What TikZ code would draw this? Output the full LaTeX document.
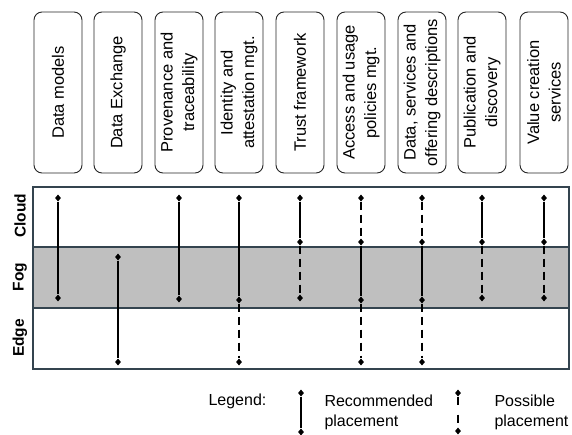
\documentclass[tikz,border=0pt]{standalone}
\usepackage{fontspec}
\setmainfont{Liberation Sans}
\usetikzlibrary{shapes.geometric}
\definecolor{frameline}{HTML}{34444F}
\definecolor{fogfill}{HTML}{BFBFBF}
\begin{document}
\begin{tikzpicture}[x=1pt,y=-1pt,
  cat/.style={draw=black!85, line width=0.9pt, rounded corners=8pt, minimum width=161pt, minimum height=48pt, rotate=90, align=center, inner sep=2pt, font=\fontsize{16.5}{21.5}\selectfont},
  layer/.style={rotate=90, font=\bfseries\fontsize{15.5}{18}\selectfont},
  endpt/.style={diamond, fill=black, inner sep=0pt, minimum width=6pt, minimum height=7pt},
  recline/.style={line width=2pt},
  possline/.style={line width=2pt, dash pattern=on 8pt off 5pt},
  legtext/.style={anchor=west, align=left, font=\fontsize{16}{20}\selectfont}]
\useasboundingbox (0,0) rectangle (572,434);

% category boxes
\node[cat] (b1) at (58,92.5) {Data models};
\node[cat] (b2) at (118,92.5) {Data Exchange};
\node[cat] (b3) at (179,92.5) {Provenance and\\traceability};
\node[cat] (b4) at (239,92.5) {Identity and\\attestation mgt.};
\node[cat] (b5) at (300,92.5) {Trust framework};
\node[cat] (b6) at (361,92.5) {Access and usage\\policies mgt.};
\node[cat] (b7) at (422,92.5) {Data, services and\\offering descriptions};
\node[cat] (b8) at (482,92.5) {Publication and\\discovery};
\node[cat] (b9) at (544,92.5) {Value creation\\services};

% layers
\fill[fogfill] (33,247) rectangle (569,308);
\draw[frameline, line width=1.1pt] (33,187) rectangle (569,369);
\draw[frameline, line width=1.1pt] (33,247) -- (569,247);
\draw[frameline, line width=1.1pt] (33,308) -- (569,308);
\node[layer] (lc) at (20,216) {Cloud};
\node[layer] (lf) at (20,277) {Fog};
\node[layer] (le) at (20,338) {Edge};

% end points
\node[endpt] (c1t) at (58,198) {};  \node[endpt] (c1b) at (58,298) {};
\node[endpt] (c2t) at (118,257) {}; \node[endpt] (c2b) at (118,362) {};
\node[endpt] (c3t) at (179,198) {}; \node[endpt] (c3b) at (179,299) {};
\node[endpt] (c4t) at (239,198) {}; \node[endpt] (c4m) at (239,300) {}; \node[endpt] (c4b) at (239,362) {};
\node[endpt] (c5t) at (300,198) {}; \node[endpt] (c5m) at (300,242) {}; \node[endpt] (c5b) at (300,298) {};
\node[endpt] (c6t) at (361,198) {}; \node[endpt] (c6m) at (361,242) {}; \node[endpt] (c6n) at (361,300) {}; \node[endpt] (c6b) at (361,362) {};
\node[endpt] (c7t) at (422,198) {}; \node[endpt] (c7m) at (422,242) {}; \node[endpt] (c7n) at (422,300) {}; \node[endpt] (c7b) at (422,362) {};
\node[endpt] (c8t) at (482,198) {}; \node[endpt] (c8m) at (482,242) {}; \node[endpt] (c8b) at (482,298) {};
\node[endpt] (c9t) at (544,198) {}; \node[endpt] (c9m) at (544,242) {}; \node[endpt] (c9b) at (544,298) {};

% connectors
\draw[recline] (c1t) -- (c1b);
\draw[recline] (c2t) -- (c2b);
\draw[recline] (c3t) -- (c3b);
\draw[recline] (c4t) -- (c4m); \draw[possline] (c4m) -- (c4b);
\draw[recline] (c5t) -- (c5m); \draw[possline] (c5m) -- (c5b);
\draw[possline] (c6t) -- (c6m); \draw[recline] (c6m) -- (c6n); \draw[possline] (c6n) -- (c6b);
\draw[possline] (c7t) -- (c7m); \draw[recline] (c7m) -- (c7n); \draw[possline] (c7n) -- (c7b);
\draw[recline] (c8t) -- (c8m); \draw[possline] (c8m) -- (c8b);
\draw[recline] (c9t) -- (c9m); \draw[possline] (c9m) -- (c9b);

% legend
\node[legtext] (lg) at (205,401) {Legend:};
\node[endpt] (l1t) at (301,393) {}; \node[endpt] (l1b) at (301,432) {};
\draw[recline] (l1t) -- (l1b);
\node[legtext] (lrec) at (321,412) {Recommended\\placement};
\node[endpt] (l2t) at (458,393) {}; \node[endpt] (l2b) at (458,431) {};
\draw[line width=2pt, dash pattern=on 8pt off 10pt] (l2t) -- (l2b);
\node[legtext] (lpos) at (491,412) {Possible\\placement};
\end{tikzpicture}
\end{document}
